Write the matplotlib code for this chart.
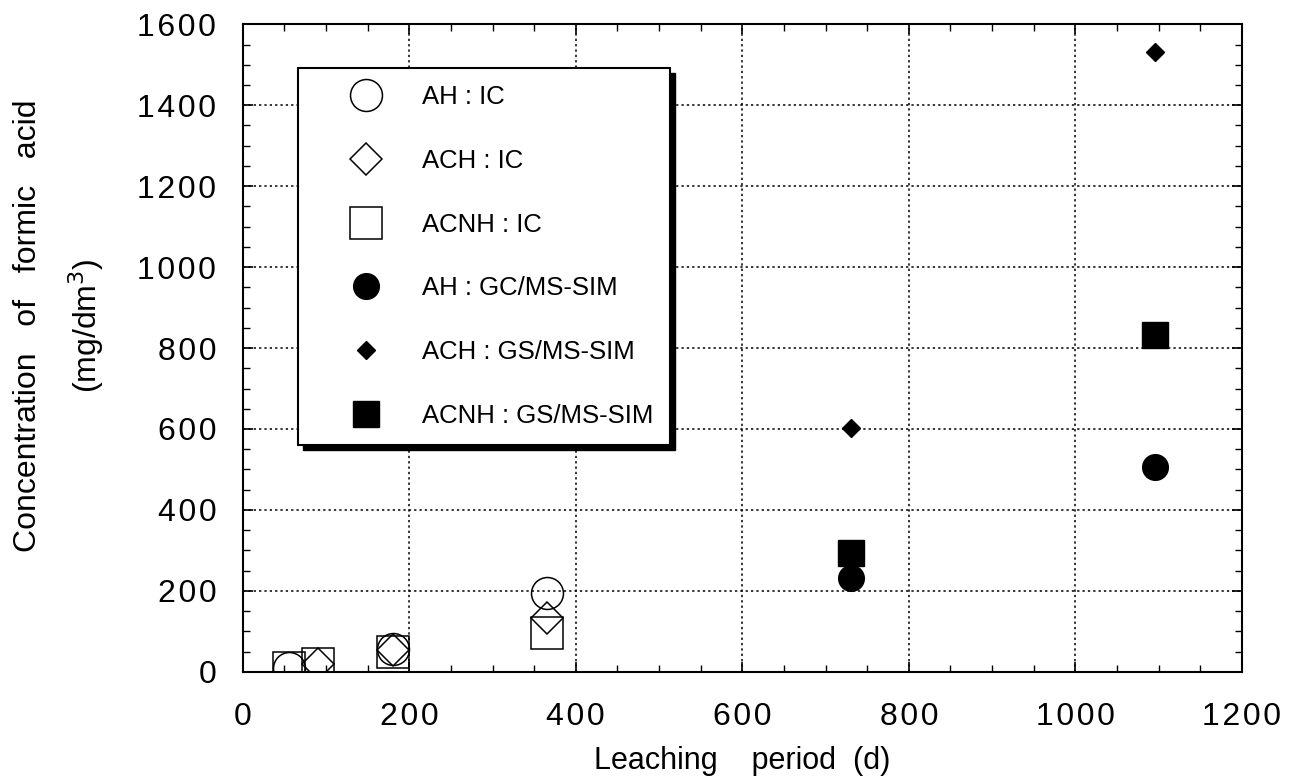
import matplotlib
matplotlib.use("Agg")
import matplotlib.pyplot as plt
from matplotlib.ticker import MultipleLocator, FuncFormatter
from matplotlib.patches import Rectangle

plt.rcParams['font.family'] = ['Liberation Sans', 'DejaVu Sans']

# IC measurements
ah_ic_days = [56, 180, 365]
ah_ic_conc = [10, 57, 195]
ach_ic_days = [91, 180, 365]
ach_ic_conc = [20, 54, 133]
acnh_ic_days = [56, 91, 180, 365]
acnh_ic_conc = [10, 20, 50, 97]

# GC/MS-SIM measurements
ah_gc_days = [730, 1095]
ah_gc_conc = [232, 506]
ach_gc_days = [730, 1095]
ach_gc_conc = [603, 1532]
acnh_gc_days = [730, 1095]
acnh_gc_conc = [294, 832]

labels = ["AH : IC", "ACH : IC", "ACNH : IC",
          "AH : GC/MS-SIM", "ACH : GS/MS-SIM", "ACNH : GS/MS-SIM"]

fig = plt.figure(figsize=(12.91, 7.83), dpi=100)
ax = fig.add_axes([0.188, 0.142, 0.774, 0.827])

mew = 1.1
ax.plot(ah_ic_days, ah_ic_conc, 'o', ms=23, mfc='none', mec='k', mew=mew, label=labels[0], zorder=3)
ax.plot(ach_ic_days, ach_ic_conc, 'D', ms=16.5, mfc='none', mec='k', mew=mew, label=labels[1], zorder=3)
ax.plot(acnh_ic_days, acnh_ic_conc, 's', ms=23.5, mfc='none', mec='k', mew=mew, label=labels[2], zorder=3)
ax.plot(ah_gc_days, ah_gc_conc, 'o', ms=18.5, color='k', label=labels[3], zorder=3)
ax.plot(ach_gc_days, ach_gc_conc, 'D', ms=9, color='k', label=labels[4], zorder=3)
ax.plot(acnh_gc_days, acnh_gc_conc, 's', ms=18.5, color='k', label=labels[5], zorder=3)

# slightly spaced-out digits like the original typesetting
spaced = FuncFormatter(lambda v, p: '\u200a'.join(str(int(round(v)))))

ax.set_xlim(0, 1200)
ax.set_ylim(0, 1600)
ax.xaxis.set_major_locator(MultipleLocator(200))
ax.xaxis.set_minor_locator(MultipleLocator(50))
ax.yaxis.set_major_locator(MultipleLocator(200))
ax.yaxis.set_minor_locator(MultipleLocator(50))
ax.xaxis.set_major_formatter(spaced)
ax.yaxis.set_major_formatter(spaced)
ax.tick_params(which='both', direction='in', top=True, right=True, colors='k')
ax.tick_params(which='major', length=7, width=1.2, labelsize=23)
ax.tick_params(axis='x', which='major', pad=22)
ax.tick_params(axis='y', which='major', pad=19)
ax.tick_params(which='minor', length=5, width=1)
for s in ax.spines.values():
    s.set_linewidth(1.5)
ax.grid(True, which='major', linestyle=(0, (1.5, 2)), color='k', linewidth=1.1)

ax.set_xlabel("Leaching    period  (d)", fontsize=22)
ax.xaxis.set_label_coords(0.5, -0.115)
fig.text(0.046, 0.584, "Concentration   of   formic   acid\n(mg/dm$^3$)",
         rotation=90, ha='center', va='center', multialignment='center',
         fontsize=23, linespacing=1.75)

leg = ax.legend(loc='upper left', bbox_to_anchor=(0.055, 0.932), fontsize=18.5,
                frameon=True, fancybox=False, edgecolor='k', framealpha=1,
                borderpad=0.65, labelspacing=1.55, handletextpad=0.2,
                handlelength=4.0, borderaxespad=0)
leg.get_frame().set_linewidth(1.5)
leg.set_zorder(5)

# heavier drop shadow than the built-in one
fig.canvas.draw()
bb = leg.get_window_extent().transformed(ax.transAxes.inverted())
ax.add_patch(Rectangle((bb.x0 + 5 / 999, bb.y0 - 5 / 648), bb.width, bb.height,
                       transform=ax.transAxes, color='k', zorder=4.9, clip_on=False))

fig.savefig("out.png", dpi=100)
